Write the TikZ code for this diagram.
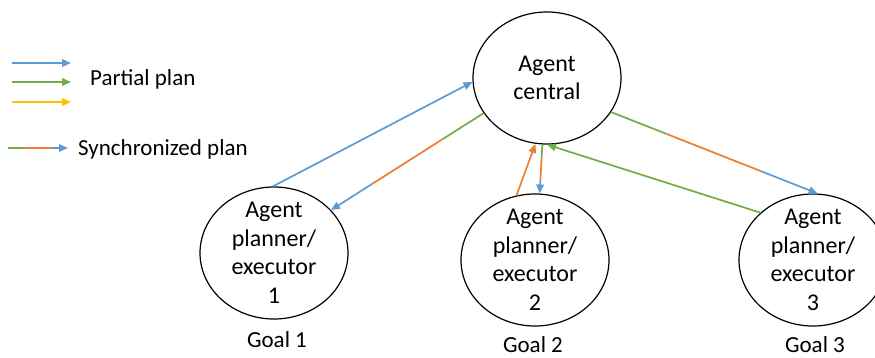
\documentclass[tikz,border=0pt]{standalone}
\usepackage{fontspec}
\setmainfont{Carlito}
\usetikzlibrary{shapes.geometric,arrows.meta,calc}
\definecolor{oblue}{HTML}{5B9BD5}
\definecolor{ogreen}{HTML}{70AD47}
\definecolor{oorange}{HTML}{ED7D31}
\definecolor{oyellow}{HTML}{FFC000}
\newcommand\syncarrow[2]{%
  \draw[con, ogreen] (#1) -- ($(#1)!0.27!(#2)$);
  \draw[con, oorange] ($(#1)!0.27!(#2)$) -- ($(#1)!0.73!(#2)$);
  \draw[con, oblue, tip] ($(#1)!0.73!(#2)$) -- (#2);}
\begin{document}
\begin{tikzpicture}[x=1pt,y=-1pt,
  agent/.style={ellipse, draw=black, line width=1.2pt, minimum width=148pt, minimum height=132pt, inner sep=0pt},
  agtext/.style={align=center, font=\fontsize{24}{28.5}\selectfont, inner sep=0pt},
  lbl/.style={font=\fontsize{23}{27}\selectfont, inner sep=0pt},
  con/.style={line width=1.7pt},
  tip/.style={-{Triangle[length=9pt,width=7.5pt]}}]
\useasboundingbox (0,0) rectangle (875,358);
\fill[white] (0,0) rectangle (875,358);

% agents
\node[agent] (c) at (547,78) {};
\node[agtext] (ct) at (c.center) {Agent\\central};
\node[agent] (n1) at (274,253) {};
\node[agtext] (t1) at (n1.center) {Agent\\planner/\\executor\\1};
\node[agent] (n2) at (535,260) {};
\node[agtext] (t2) at (n2.center) {Agent\\planner/\\executor\\2};
\node[agent] (n3) at (813,260) {};
\node[agtext] (t3) at (n3.center) {Agent\\planner/\\executor\\3};

% goals
\node[lbl] (g1) at (277,340) {Goal 1};
\node[lbl] (g2) at (533,345) {Goal 2};
\node[lbl] (g3) at (815,345) {Goal 3};

% legend
\coordinate (lb1) at (12,63);  \coordinate (lb2) at (71,63);
\coordinate (lg1) at (12,82);  \coordinate (lg2) at (71,82);
\coordinate (ly1) at (12,102); \coordinate (ly2) at (71,102);
\coordinate (ls1) at (8,148);  \coordinate (ls2) at (68,148);
\draw[con, oblue, tip] (lb1) -- (lb2);
\draw[con, ogreen, tip] (lg1) -- (lg2);
\draw[con, oyellow, tip] (ly1) -- (ly2);
\syncarrow{ls1}{ls2}
\node[lbl, anchor=west] (pp) at (90,79) {Partial plan};
\node[lbl, anchor=west] (sp) at (78,149) {Synchronized plan};

% connectors
\draw[con, oblue, tip] (n1.91) -- (c.183);
\coordinate (a2) at (c.209.6); \coordinate (b2) at (n1.37);
\syncarrow{a2}{b2}
\draw[con, oorange, tip] (n2.106.6) -- (c.260);
\coordinate (a4) at (c.266.7); \coordinate (b4) at (n2.86.6);
\syncarrow{a4}{b4}
\draw[con, ogreen, tip] (n3.138.4) -- (c.270.8);
\coordinate (a6) at (c.332.4); \coordinate (b6) at (n3.86.6);
\syncarrow{a6}{b6}
\end{tikzpicture}
\end{document}
